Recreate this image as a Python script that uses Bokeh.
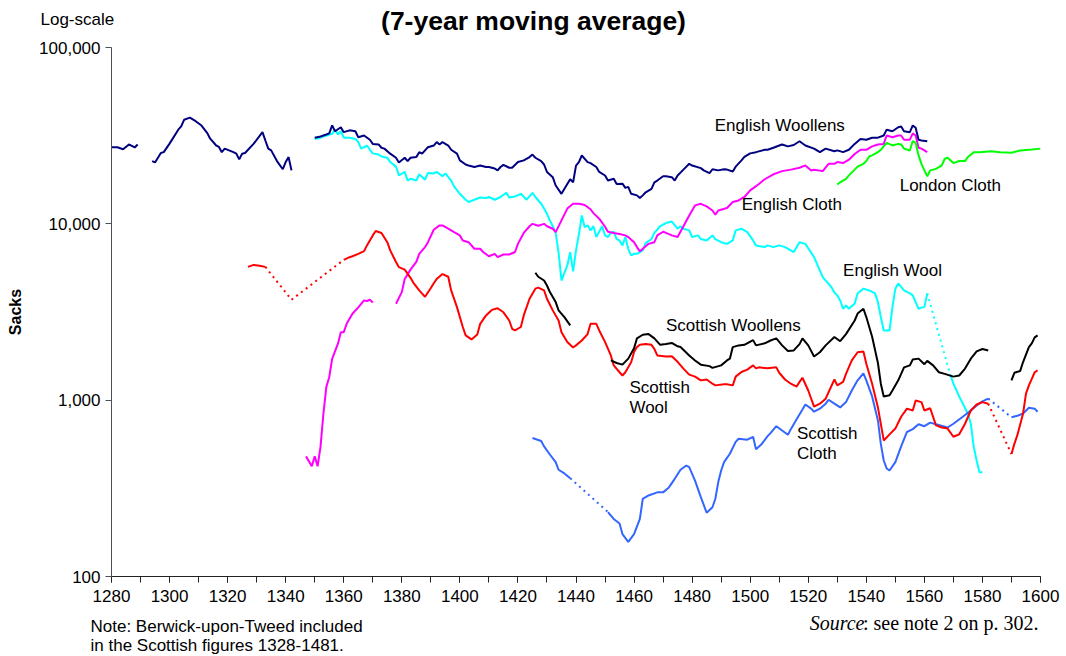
import math
from bokeh.plotting import figure
from bokeh.layouts import column
from bokeh.models import Range1d, FixedTicker, NumeralTickFormatter, Label
from bokeh.embed import file_html
from bokeh.resources import INLINE

# ---------------- data (sacks, 7-year moving average) ----------------
eng_woollens_years = [1280, 1282, 1284, 1286, 1288, 1289,
    1294, 1295, 1297, 1298, 1300, 1303, 1304, 1305, 1307, 1309, 1311, 1313, 1314, 1316, 1317, 1318, 1319,
    1322, 1323, 1324, 1325, 1326, 1329, 1332, 1333, 1334, 1335, 1337, 1339, 1340, 1341, 1342,
    1350, 1352, 1354, 1355, 1356, 1357, 1359, 1360, 1362, 1364, 1365, 1367, 1369, 1370, 1372, 1373, 1374,
    1376, 1378, 1379, 1381, 1382, 1383, 1385, 1386, 1387, 1389, 1391, 1392, 1393, 1394, 1396, 1397, 1399,
    1400, 1402, 1403, 1405, 1407, 1409, 1410, 1412, 1413, 1414, 1415, 1417, 1418, 1420, 1422, 1424, 1425,
    1426, 1428, 1429, 1430, 1432, 1433, 1435, 1437, 1438, 1439, 1440, 1441, 1442, 1444, 1445, 1447, 1448,
    1450, 1451, 1453, 1454, 1456, 1457, 1458, 1459, 1461, 1462, 1463, 1464, 1466, 1467, 1468, 1470, 1471,
    1473, 1474, 1475, 1477, 1479, 1480, 1483, 1484, 1486, 1487, 1489, 1491, 1492, 1494, 1495, 1497, 1498,
    1500, 1502, 1505, 1506, 1508, 1510, 1511, 1513, 1515, 1517, 1519, 1522, 1524, 1526, 1529, 1530, 1532,
    1534, 1536, 1538, 1540, 1542, 1544, 1546, 1547, 1549, 1551, 1552, 1553, 1555, 1556, 1557, 1558, 1559, 1561]
eng_woollens_vals = [27200, 27200, 26500, 28200, 27100, 28200,
    22700, 22300, 25200, 25500, 28500, 34200, 35700, 38900, 40000, 38200, 36100, 32700, 30400, 27900, 27300, 25500, 26700,
    25500, 25000, 23200, 25000, 25200, 28500, 33100, 29700, 26700, 26100, 22700, 20400, 22400, 23900, 20100,
    30800, 31300, 32100, 32600, 36150, 33500, 35300, 33100, 33900, 33500, 31000, 31700, 30000, 28400, 28200, 27000, 26700,
    25000, 23700, 22300, 23700, 22700, 23700, 23900, 25500, 25000, 27200, 27800, 29100, 28200, 29100, 27800, 26300, 25000,
    22900, 21700, 21400, 21000, 21400, 21000, 21000, 20600, 20100, 21000, 21600, 20800, 20800, 22400, 22900, 23900, 24700,
    23700, 22700, 21700, 19700, 18400, 16500, 14800, 16800, 17900, 17200, 21400, 22400, 24400, 22400, 22100, 21000, 19700,
    18800, 17600, 18000, 16800, 16900, 16000, 16200, 14800, 14500, 14000, 14500, 15100, 15800, 17200, 17600, 18600, 18600,
    18400, 17600, 18800, 20300, 21900, 21400, 20700, 20100, 19400, 20400, 20100, 20400, 20300, 19800, 21100, 22900, 24000,
    25100, 25500, 26300, 26300, 27000, 27800, 28200, 27500, 28000, 29400, 27800, 26700, 25500, 26700, 25800, 26100, 25500,
    26300, 28400, 30300, 30000, 30800, 30800, 31700, 34200, 33500, 35300, 35600, 33500, 33100, 36150, 35100, 30000, 29700, 29400]
eng_woollens_gaps = [(1289, 1294), (1342, 1350)]
eng_woollens_dotted = []

eng_wool_years = [1350, 1352, 1354, 1356, 1357, 1358, 1359, 1360, 1362, 1364, 1365, 1366, 1368, 1369, 1370, 1372, 1373,
    1375, 1376, 1378, 1379, 1381, 1382, 1383, 1385, 1386, 1388, 1389, 1391, 1392, 1394, 1395, 1397, 1398,
    1400, 1402, 1403, 1405, 1407, 1409, 1410, 1412, 1414, 1416, 1417, 1419, 1421, 1423, 1425, 1426, 1428,
    1429, 1430, 1431, 1432, 1433, 1434, 1435, 1437, 1438, 1439, 1440, 1441, 1442, 1443, 1444, 1445, 1446,
    1447, 1449, 1450, 1451, 1452, 1453, 1454, 1455, 1456, 1457, 1458, 1459, 1460, 1461, 1463, 1464, 1466,
    1467, 1469, 1471, 1473, 1475, 1476, 1477, 1479, 1480, 1482, 1483, 1485, 1487, 1488, 1490, 1492, 1494,
    1495, 1497, 1499, 1501, 1502, 1505, 1506, 1508, 1510, 1512, 1514, 1515, 1517, 1519, 1522, 1525, 1528,
    1529, 1530, 1531, 1532, 1533, 1534, 1536, 1537, 1539, 1541, 1543, 1544, 1545, 1546, 1548, 1549, 1550,
    1551, 1553, 1555, 1556, 1557, 1558, 1559, 1560, 1561, 1569, 1570, 1572, 1573, 1575, 1576, 1577, 1578, 1579, 1580]
eng_wool_vals = [30300, 30800, 31700, 32400, 34200, 32100, 33500, 30800, 30800, 30300, 29100, 26700, 27800, 26300, 25100, 24700, 24100,
    23700, 22400, 21100, 18800, 19700, 17600, 18000, 17600, 19100, 17800, 19400, 19300, 19700, 18600, 19300, 17600, 16300,
    14800, 13700, 13300, 13700, 14100, 14000, 14200, 13700, 14200, 15000, 14100, 14300, 14800, 13700, 15000, 14200, 13000,
    12200, 11400, 10460, 9690, 8880, 6870, 4770, 5810, 6900, 5370, 7070, 8700, 11160, 9560, 9820, 9180, 9700,
    8420, 9690, 8600, 8420, 8880, 9020, 8200, 8050, 7545, 8420, 7220, 6620, 6760, 6760, 7070, 7780, 8200,
    8880, 9690, 10100, 10300, 9380, 9690, 9380, 9180, 8420, 8600, 8200, 8050, 8600, 8200, 7870, 7700, 8050,
    9180, 9380, 8980, 8050, 7545, 7380, 7545, 7380, 7545, 7380, 7070, 6920, 7870, 7700, 6480, 4990, 4370,
    4080, 3930, 3680, 3300, 3445, 3300, 3530, 4030, 4290, 4190, 4030, 3600, 2960, 2485, 2485, 3370, 4290,
    4590, 4190, 4030, 3930, 3600, 3300, 3350, 3370, 4030, 1380, 1240, 1050, 975, 835, 735, 545, 455, 390, 390]
eng_wool_gaps = []
eng_wool_dotted = [(1561, 1569)]

eng_cloth_years = [1347, 1349, 1350, 1351, 1352, 1353, 1354, 1355, 1356, 1358, 1359, 1360, 1361, 1363, 1365, 1367, 1368, 1369, 1370,
    1378, 1380, 1381, 1383, 1385, 1386, 1388, 1389, 1391, 1393, 1394, 1396, 1398, 1400, 1401, 1403, 1405,
    1407, 1408, 1410, 1412, 1413, 1415, 1417, 1419, 1420, 1422, 1424, 1425, 1427, 1429, 1430, 1432, 1433,
    1435, 1437, 1439, 1441, 1443, 1445, 1446, 1448, 1450, 1451, 1453, 1455, 1457, 1458, 1460, 1461, 1462,
    1463, 1465, 1467, 1468, 1470, 1471, 1473, 1475, 1477, 1479, 1481, 1483, 1485, 1487, 1488, 1489, 1492,
    1494, 1496, 1498, 1500, 1503, 1505, 1508, 1511, 1514, 1517, 1519, 1521, 1522, 1525, 1527, 1529, 1530,
    1532, 1534, 1536, 1538, 1540, 1542, 1544, 1546, 1547, 1549, 1551, 1552, 1553, 1555, 1556, 1557, 1558, 1559, 1561]
eng_cloth_vals = [480, 422, 480, 422, 545, 840, 1190, 1350, 1715, 2090, 2430, 2430, 2710, 3090, 3360, 3680, 3650, 3710, 3580,
    3520, 4100, 4870, 5500, 6080, 6760, 7380, 7870, 9260, 9800, 9800, 9380, 8980, 8600, 8050, 7870, 7220,
    7220, 6920, 6550, 6760, 6480, 6700, 6700, 6920, 7700, 8880, 9690, 10000, 9750, 10000, 9690, 9380, 8980,
    10460, 12200, 13000, 13000, 12800, 12100, 11500, 10700, 9630, 9020, 8880, 8750, 8600, 8420, 7870, 7380, 6980,
    7220, 7700, 7870, 8600, 9020, 8880, 8600, 8420, 9690, 11160, 12720, 12990, 12570, 11910, 11270, 11910, 12300,
    13290, 13570, 14200, 15470, 16820, 17900, 19100, 19900, 20300, 20800, 21440, 20090, 20280, 19900, 21900, 21900, 22400,
    22100, 23100, 24900, 26300, 26300, 27500, 28200, 28400, 31700, 31000, 31700, 31700, 30000, 30000, 32600, 31700, 27000, 26700, 25500]
eng_cloth_gaps = [(1370, 1378)]
eng_cloth_dotted = []

london_cloth_years = [1530, 1531, 1533, 1534, 1536, 1537, 1539, 1540, 1541, 1542, 1544, 1545, 1547, 1549, 1551, 1552, 1553,
    1555, 1556, 1557, 1558, 1559, 1560, 1561, 1562, 1564, 1566, 1567, 1568, 1570, 1572, 1574, 1575, 1577,
    1579, 1583, 1586, 1590, 1593, 1597, 1600]
london_cloth_vals = [16700, 17200, 18000, 18820, 20300, 21100, 21900, 22700, 24100, 24430, 25500, 26300, 28800, 27840, 28400, 28200, 26700,
    26080, 29500, 28800, 24430, 21900, 20090, 18600, 20090, 20500, 21440, 23400, 23700, 22100, 22700, 22700, 23900, 25500,
    25500, 25800, 25500, 25300, 26080, 26400, 26700]
london_cloth_gaps = []
london_cloth_dotted = []

scot_wool_years = [1327, 1329, 1331, 1333, 1342, 1360, 1362, 1363, 1365, 1367, 1368, 1370, 1371, 1373, 1375, 1376, 1378,
    1379, 1381, 1383, 1384, 1386, 1387, 1388, 1390, 1391, 1392, 1394, 1396, 1397, 1399, 1401, 1402, 1404,
    1406, 1407, 1409, 1411, 1413, 1415, 1417, 1418, 1419, 1421, 1422, 1424, 1426, 1427, 1429, 1430, 1432,
    1434, 1435, 1437, 1439, 1440, 1442, 1444, 1445, 1447, 1448, 1450, 1452, 1453, 1455, 1456, 1457, 1459,
    1460, 1461, 1462, 1464, 1466, 1467, 1468, 1471, 1473, 1475, 1477, 1479, 1481, 1483, 1485, 1487, 1488,
    1491, 1492, 1494, 1495, 1497, 1499, 1501, 1502, 1503, 1506, 1509, 1510, 1512, 1514, 1516, 1517, 1518,
    1520, 1522, 1524, 1526, 1529, 1530, 1532, 1533, 1535, 1537, 1539, 1540, 1542, 1544, 1546, 1548, 1550,
    1552, 1554, 1556, 1557, 1559, 1560, 1562, 1564, 1566, 1568, 1570, 1572, 1574, 1576, 1578, 1580, 1582,
    1590, 1591, 1592, 1594, 1595, 1596, 1597, 1598, 1599]
scot_wool_vals = [5700, 5850, 5790, 5700, 3710, 6250, 6470, 6550, 6760, 7000, 7545, 8600, 9100, 8880, 7870, 7070, 6080,
    5680, 5500, 4940, 4630, 4190, 4020, 3860, 4330, 4600, 4860, 5190, 5010, 4190, 3370, 2600, 2330, 2210,
    2360, 2710, 3025, 3250, 3320, 3150, 2830, 2540, 2485, 2600, 3025, 3760, 4290, 4350, 4190, 3760, 3230,
    2830, 2430, 2140, 1990, 2045, 2180, 2370, 2710, 2710, 2485, 2140, 1793, 1575, 1440, 1380, 1440, 1640,
    1875, 2000, 2060, 2080, 2060, 1950, 1793, 1770, 1775, 1650, 1510, 1395, 1360, 1295, 1310, 1240, 1213,
    1230, 1230, 1213, 1360, 1445, 1490, 1575, 1515, 1535, 1515, 1535, 1430, 1310, 1240, 1195, 1270, 1340,
    1135, 920, 955, 1020, 1310, 1213, 1270, 1410, 1680, 1870, 1890, 1610, 1240, 910, 591, 640, 690,
    805, 896, 874, 996, 975, 874, 900, 719, 700, 690, 620, 640, 735, 874, 945, 975, 955,
    495, 565, 631, 840, 1090, 1213, 1320, 1440, 1475]
scot_wool_gaps = []
scot_wool_dotted = [(1333, 1342), (1342, 1360), (1582, 1590)]

scot_woollens_years = [1426, 1427, 1429, 1430, 1431, 1433, 1434, 1436, 1438,
    1452, 1454, 1456, 1458, 1460, 1461, 1463, 1465, 1467, 1469, 1471, 1473, 1475, 1476, 1479, 1481, 1483,
    1486, 1487, 1490, 1492, 1493, 1494, 1496, 1498, 1501, 1502, 1505, 1507, 1509, 1511, 1513, 1515, 1517,
    1518, 1520, 1522, 1524, 1526, 1529, 1531, 1533, 1536, 1537, 1539, 1540, 1542, 1544, 1545, 1546, 1548,
    1549, 1551, 1553, 1555, 1556, 1558, 1560, 1561, 1563, 1565, 1567, 1570, 1572, 1574, 1576, 1578, 1580, 1582,
    1590, 1591, 1593, 1594, 1596, 1597, 1598, 1599]
scot_woollens_vals = [5280, 5010, 4770, 4470, 4100, 3600, 3230, 2960, 2655,
    1680, 1625, 1590, 1720, 1970, 2240, 2350, 2370, 2240, 2060, 2080, 2110, 2020, 2000, 1793, 1680, 1590,
    1560, 1525, 1575, 1680, 1720, 2000, 2045, 2060, 2190, 2045, 2100, 2180, 2240, 2045, 1900, 1915, 2080,
    2240, 2045, 1770, 1870, 2045, 2280, 2160, 2370, 2830, 3100, 3300, 2960, 2290, 1625, 1240, 1050, 1065,
    1135, 1295, 1535, 1575, 1700, 1720, 1600, 1670, 1575, 1440, 1410, 1360, 1380, 1510, 1720, 1890, 1950, 1915,
    1295, 1430, 1465, 1645, 2000, 2100, 2270, 2330]
scot_woollens_gaps = [(1438, 1452), (1582, 1590)]
scot_woollens_dotted = []

scot_cloth_years = [1425, 1428, 1429, 1431, 1433, 1434, 1436, 1438,
    1451, 1453, 1455, 1456, 1458, 1460, 1462, 1463, 1465, 1468, 1470, 1472, 1474, 1476, 1478, 1479, 1481,
    1483, 1485, 1487, 1488, 1489, 1490, 1491, 1493, 1495, 1496, 1499, 1501, 1502, 1504, 1506, 1507, 1509,
    1511, 1513, 1514, 1516, 1518, 1519, 1521, 1522, 1524, 1526, 1527, 1529, 1531, 1533, 1535, 1537, 1539,
    1540, 1542, 1544, 1545, 1546, 1547, 1548, 1550, 1552, 1554, 1556, 1558, 1560, 1562, 1564, 1568, 1570,
    1573, 1576, 1578, 1580, 1582, 1590, 1592, 1594, 1596, 1598, 1599]
scot_cloth_vals = [610, 587, 547, 492, 445, 403, 384, 361,
    232, 212, 200, 174, 157, 174, 212, 276, 288, 300, 300, 320, 358, 403, 426, 417, 350,
    282, 230, 247, 276, 343, 399, 445, 497, 580, 604, 597, 620, 527, 565, 625, 650, 712,
    673, 637, 685, 780, 885, 945, 895, 860, 895, 955, 1005, 955, 910, 975, 1135, 1295, 1420,
    1295, 1050, 767, 565, 455, 410, 399, 445, 547, 660, 685, 730, 712, 746, 730, 700, 735,
    800, 874, 933, 985, 1020, 800, 815, 840, 905, 895, 860]
scot_cloth_gaps = []
scot_cloth_dotted = [(1438, 1451), (1582, 1590)]

x_tick_years = list(range(1280, 1601, 20))
x_minor_years = list(range(1280, 1601, 10))
y_ticks = [100, 1000, 10000, 100000]

FONT = "Liberation Sans"
SERIF = "Liberation Serif"
W = 1066
TOP_H = 36
BOTTOM_H = 45
MAIN_H = 656 - TOP_H - BOTTOM_H


def style_of(bold, italic):
    if bold and italic:
        return "bold italic"
    if bold:
        return "bold"
    if italic:
        return "italic"
    return "normal"


def add_label(fig, x, y, text, size="17px", align="left", bold=False, italic=False, font=FONT, angle=0.0):
    fig.add_layout(Label(x=x, y=y, text=text, text_font=font, text_font_size=size,
                         text_align=align, text_baseline="middle",
                         text_font_style=style_of(bold, italic), text_color="black", angle=angle))


def text_strip(height):
    # a strip whose frame is the whole canvas, measured in pixels from its top-left
    f = figure(width=W, height=height, x_range=Range1d(0, W), y_range=Range1d(height, 0),
               x_axis_type=None, y_axis_type=None, output_backend="svg", toolbar_location=None,
               min_border=0)
    if "frame_align" in f.properties():
        f.frame_align = False
    f.outline_line_color = None
    f.xgrid.visible = False
    f.ygrid.visible = False
    return f


# ---------------- top strip ----------------
top = text_strip(TOP_H)
add_label(top, 40, 19, "Log-scale")
add_label(top, 533, 20, "(7-year moving average)", size="26.5px", align="center", bold=True)

# ---------------- main chart ----------------
p = figure(width=W, height=MAIN_H, x_range=Range1d(1280, 1600), y_range=Range1d(100, 100000),
           y_axis_type="log", output_backend="svg", toolbar_location=None,
           min_border_left=111, min_border_right=26, min_border_top=47 - TOP_H,
           min_border_bottom=MAIN_H + TOP_H - 576)
if "frame_align" in p.properties():
    p.frame_align = False
p.outline_line_color = None
p.xgrid.visible = False
p.ygrid.visible = False

xa = p.xaxis[0]
xa.ticker = FixedTicker(ticks=x_tick_years, minor_ticks=x_minor_years)
xa.axis_line_color = "#222222"
xa.major_tick_line_color = "#222222"
xa.minor_tick_line_color = "#222222"
xa.major_tick_out = 6
xa.major_tick_in = 0
xa.minor_tick_out = 6
xa.minor_tick_in = 0
xa.major_label_standoff = 7
xa.major_label_text_font = FONT
xa.major_label_text_font_size = "17px"
xa.major_label_text_color = "black"

ya = p.yaxis[0]
ya.ticker = FixedTicker(ticks=y_ticks)
ya.formatter = NumeralTickFormatter(format="0,0")
ya.axis_line_color = "#505050"
ya.major_tick_line_color = "#505050"
ya.minor_tick_line_color = None
ya.major_tick_out = 6
ya.major_tick_in = 0
ya.major_label_standoff = 5
ya.major_label_text_font = FONT
ya.major_label_text_font_size = "17px"
ya.major_label_text_color = "black"
ya.axis_label = "Sacks"
ya.axis_label_text_font = FONT
ya.axis_label_text_font_size = "16px"
ya.axis_label_text_font_style = "bold"
ya.axis_label_text_color = "black"
ya.axis_label_standoff = 12


def draw(years, vals, gaps, dotted, color):
    breaks = set(gaps) | set(dotted)
    xs, ys = [], []
    for i, (yr, v) in enumerate(zip(years, vals)):
        if i > 0 and (years[i - 1], yr) in breaks:
            xs.append(float("nan"))
            ys.append(float("nan"))
        xs.append(yr)
        ys.append(v)
    p.line(xs, ys, line_color=color, line_width=2)
    for a, b in dotted:
        i, j = years.index(a), years.index(b)
        p.line(years[i:j + 1], vals[i:j + 1], line_color=color, line_width=2, line_dash="2 4")


draw(eng_wool_years, eng_wool_vals, eng_wool_gaps, eng_wool_dotted, "#00FFFF")
draw(eng_cloth_years, eng_cloth_vals, eng_cloth_gaps, eng_cloth_dotted, "#FF00FF")
draw(london_cloth_years, london_cloth_vals, london_cloth_gaps, london_cloth_dotted, "#00FF00")
draw(eng_woollens_years, eng_woollens_vals, eng_woollens_gaps, eng_woollens_dotted, "#000080")
draw(scot_cloth_years, scot_cloth_vals, scot_cloth_gaps, scot_cloth_dotted, "#3366FF")
draw(scot_wool_years, scot_wool_vals, scot_wool_gaps, scot_wool_dotted, "#FF0000")
draw(scot_woollens_years, scot_woollens_vals, scot_woollens_gaps, scot_woollens_dotted, "#000000")

add_label(p, 1487.8, 36100, "English Woollens")
add_label(p, 1497.1, 12900, "English Cloth")
add_label(p, 1551.5, 16500, "London Cloth")
add_label(p, 1532.0, 5440, "English Wool")
add_label(p, 1471.0, 2650, "Scottish Woollens")
add_label(p, 1458.4, 1180, "Scottish")
add_label(p, 1458.4, 903, "Wool")
add_label(p, 1516.1, 647, "Scottish")
add_label(p, 1516.1, 496, "Cloth")

# ---------------- bottom strip ----------------
bottom = text_strip(BOTTOM_H)
add_label(bottom, 90, 15, "Note: Berwick-upon-Tweed included")
add_label(bottom, 90, 34, "in the Scottish figures 1328-1481.")
add_label(bottom, 1038, 11, ": see note 2 on p. 302.", size="20px", align="right", font=SERIF)
add_label(bottom, 864, 11, "Source", size="20px", align="right", italic=True, font=SERIF)

layout = column(top, p, bottom, spacing=0)
open("out.html", "w").write(file_html(layout, INLINE))
